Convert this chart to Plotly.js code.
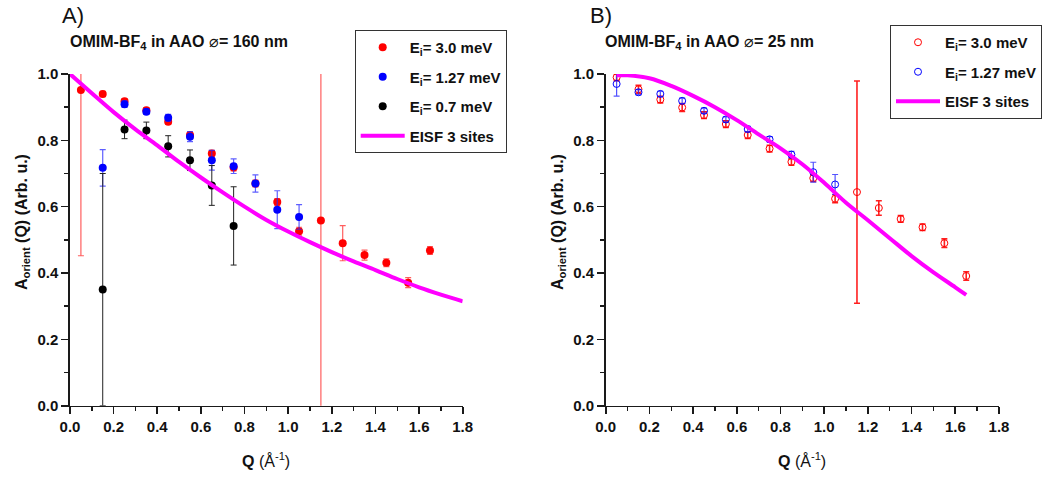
<!DOCTYPE html>
<html>
<head>
<meta charset="utf-8">
<script src="https://cdn.plot.ly/plotly-3.0.1.min.js"></script>
<style>html,body{margin:0;padding:0;background:#fff;}#chart{width:1051px;height:479px;}</style>
</head>
<body>
<div id="chart"></div>
<script>
// ---- Panel A: OMIM-BF4 in AAO, 160 nm ----
const qA_red   = [0.05,0.15,0.25,0.35,0.45,0.55,0.65,0.75,0.85,0.95,1.05,1.15,1.25,1.35,1.45,1.55,1.65];
const aA_red   = [0.952,0.940,0.918,0.891,0.856,0.816,0.760,0.718,0.670,0.614,0.526,0.558,0.490,0.454,0.431,0.371,0.468];
const eA_red   = [0.50,0.008,0.008,0.008,0.008,0.008,0.010,0.010,0.010,0.010,0.012,0.60,0.053,0.015,0.012,0.015,0.012];
const qA_blue  = [0.15,0.25,0.35,0.45,0.55,0.65,0.75,0.85,0.95,1.05];
const aA_blue  = [0.717,0.909,0.886,0.868,0.811,0.740,0.722,0.670,0.591,0.569];
const eA_blue  = [0.055,0.010,0.008,0.010,0.015,0.030,0.022,0.026,0.057,0.037];
const qA_black = [0.15,0.25,0.35,0.45,0.55,0.65,0.75];
const aA_black = [0.350,0.833,0.830,0.782,0.740,0.664,0.542];
const eA_black = [0.35,0.028,0.025,0.032,0.031,0.060,0.118];
const qA_fit   = [0.0,0.1,0.2,0.3,0.4,0.5,0.6,0.7,0.8,0.9,1.0,1.1,1.2,1.3,1.4,1.5,1.6,1.7,1.8];
const aA_fit   = [1.0,0.942,0.885,0.833,0.785,0.735,0.688,0.643,0.600,0.560,0.525,0.493,0.463,0.435,0.409,0.382,0.357,0.335,0.315];

// ---- Panel B: OMIM-BF4 in AAO, 25 nm ----
const qB_red   = [0.05,0.15,0.25,0.35,0.45,0.55,0.65,0.75,0.85,0.95,1.05,1.15,1.25,1.35,1.45,1.55,1.65];
const aB_red   = [0.990,0.954,0.923,0.899,0.876,0.849,0.816,0.775,0.735,0.686,0.624,0.644,0.596,0.563,0.538,0.490,0.391];
const eB_red   = [0.010,0.012,0.010,0.012,0.010,0.010,0.010,0.010,0.010,0.010,0.012,0.335,0.022,0.010,0.010,0.013,0.013];
const qB_blue  = [0.05,0.15,0.25,0.35,0.45,0.55,0.65,0.75,0.85,0.95,1.05];
const aB_blue  = [0.970,0.945,0.940,0.919,0.889,0.863,0.834,0.803,0.757,0.704,0.667];
const eB_blue  = [0.037,0.008,0.008,0.008,0.008,0.008,0.008,0.008,0.010,0.030,0.030];
const qB_fit   = [0.05,0.1,0.2,0.3,0.4,0.5,0.6,0.7,0.8,0.9,1.0,1.1,1.2,1.3,1.4,1.5,1.6,1.65];
const aB_fit   = [0.996,0.996,0.987,0.964,0.934,0.900,0.861,0.818,0.776,0.728,0.672,0.612,0.559,0.505,0.451,0.402,0.357,0.334];

const xTicks = [0,0.2,0.4,0.6,0.8,1.0,1.2,1.4,1.6,1.8];
const yTicks = [0,0.2,0.4,0.6,0.8,1.0];

const legRed  = 'E<sub>i</sub>= 3.0 meV';
const legBlue = 'E<sub>i</sub>= 1.27 meV';
const legBlack= 'E<sub>i</sub>= 0.7 meV';
const legFit  = 'EISF 3 sites';

const FONT = '"Liberation Sans", Arial, sans-serif';

function eb(arr, color, th){ return {type:'data', array:arr, visible:true, color:color, thickness:th, width:3}; }

const traces = [
  {x:qA_red, y:aA_red, type:'scatter', mode:'markers', name:legRed, xaxis:'x', yaxis:'y', legend:'legend', legendgroup:'a1',
   marker:{color:'#ff0000', size:8}, error_y:eb(eA_red,'rgba(255,40,40,0.75)',1.2)},
  {x:qA_blue, y:aA_blue, type:'scatter', mode:'markers', name:legBlue, xaxis:'x', yaxis:'y', legend:'legend', legendgroup:'a2',
   marker:{color:'#0000ff', size:8}, error_y:eb(eA_blue,'rgba(40,40,255,0.75)',1.2)},
  {x:qA_black, y:aA_black, type:'scatter', mode:'markers', name:legBlack, xaxis:'x', yaxis:'y', legend:'legend', legendgroup:'a3',
   marker:{color:'#000000', size:8}, error_y:eb(eA_black,'#222222',1.0)},
  {x:qA_fit, y:aA_fit, type:'scatter', mode:'lines', name:legFit, xaxis:'x', yaxis:'y', legend:'legend', legendgroup:'a4',
   line:{color:'#ff00ff', width:4, shape:'spline'}},

  {x:qB_red, y:aB_red, type:'scatter', mode:'markers', name:legRed, xaxis:'x2', yaxis:'y2', legend:'legend2', legendgroup:'b1',
   marker:{color:'#ff0000', size:7, symbol:'circle-open', line:{width:1}}, error_y:eb(eB_red,'#ff2020',1.6)},
  {x:qB_blue, y:aB_blue, type:'scatter', mode:'markers', name:legBlue, xaxis:'x2', yaxis:'y2', legend:'legend2', legendgroup:'b2',
   marker:{color:'#0000ff', size:7, symbol:'circle-open', line:{width:1}}, error_y:eb(eB_blue,'rgba(40,40,255,0.8)',1.2)},
  {x:qB_fit, y:aB_fit, type:'scatter', mode:'lines', name:legFit, xaxis:'x2', yaxis:'y2', legend:'legend2', legendgroup:'b3',
   line:{color:'#ff00ff', width:4, shape:'spline'}}
];

function xax(domain, anchor){
  return {domain:domain, anchor:anchor, range:[0,1.8], tickvals:xTicks, ticktext:xTicks.map(v=>v.toFixed(1)),
    showline:true, linecolor:'#1a1a1a', linewidth:1.6, ticks:'outside', ticklen:7, tickwidth:1.6, tickcolor:'#1a1a1a',
    minor:{dtick:0.1, tick0:0, ticks:'outside', ticklen:4, tickwidth:1.4, tickcolor:'#1a1a1a', showgrid:false},
    showgrid:false, zeroline:false, tickfont:{family:FONT, size:15, color:'#111', weight:'bold'}};
}
function yax(domain, anchor){
  return {domain:domain, anchor:anchor, range:[0,1.0], tickvals:yTicks, ticktext:yTicks.map(v=>v.toFixed(1)),
    showline:true, linecolor:'#1a1a1a', linewidth:1.6, ticks:'outside', ticklen:7, tickwidth:1.6, tickcolor:'#1a1a1a',
    minor:{dtick:0.1, tick0:0, ticks:'outside', ticklen:4, tickwidth:1.4, tickcolor:'#1a1a1a', showgrid:false},
    showgrid:false, zeroline:false, tickfont:{family:FONT, size:15, color:'#111', weight:'bold'}};
}

const W = 1051, H = 479;
const yDom = [1-405.7/H, 1-74/H];
const legFont = {family:FONT, size:15, color:'#111', weight:'bold'};

const layout = {
  width:W, height:H, margin:{l:0,r:0,t:0,b:0}, paper_bgcolor:'#fff', plot_bgcolor:'#fff',
  font:{family:FONT},
  xaxis: xax([70/W, 462.7/W], 'y'),
  yaxis: yax(yDom, 'x'),
  xaxis2: xax([605.7/W, 999/W], 'y2'),
  yaxis2: yax(yDom, 'x2'),
  showlegend:true,
  legend:{x:354.7/W, y:1-30/H, xanchor:'left', yanchor:'top', bordercolor:'#333', borderwidth:1, bgcolor:'#fff',
    font:legFont, itemwidth:44, traceorder:'grouped', tracegroupgap:7},
  legend2:{x:890/W, y:1-25/H, xanchor:'left', yanchor:'top', bordercolor:'#333', borderwidth:1, bgcolor:'#fff',
    font:legFont, itemwidth:44, traceorder:'grouped', tracegroupgap:7},
  annotations:[
    {text:'A)', xref:'paper', yref:'paper', x:60/W, y:1-1/H, xanchor:'left', yanchor:'top', showarrow:false,
     font:{family:FONT, size:22, color:'#111'}},
    {text:'B)', xref:'paper', yref:'paper', x:588/W, y:1-1/H, xanchor:'left', yanchor:'top', showarrow:false,
     font:{family:FONT, size:22, color:'#111'}},
    {text:'OMIM-BF<sub>4</sub> in AAO <span style="font-weight:normal">⌀</span>= 160 nm', xref:'paper', yref:'paper',
     x:68/W, y:1-43/H, xanchor:'left', yanchor:'middle', showarrow:false, font:{family:FONT, size:16, color:'#111', weight:'bold'}},
    {text:'OMIM-BF<sub>4</sub> in AAO <span style="font-weight:normal">⌀</span>= 25 nm', xref:'paper', yref:'paper',
     x:603/W, y:1-43/H, xanchor:'left', yanchor:'middle', showarrow:false, font:{family:FONT, size:16, color:'#111', weight:'bold'}},
    {text:'A<sub>orient</sub> (Q) (Arb. u.)', xref:'paper', yref:'paper', x:22/W, y:1-222/H, textangle:-90,
     xanchor:'center', yanchor:'middle', showarrow:false, font:{family:FONT, size:16, color:'#111', weight:'bold'}},
    {text:'A<sub>orient</sub> (Q) (Arb. u.)', xref:'paper', yref:'paper', x:558/W, y:1-222/H, textangle:-90,
     xanchor:'center', yanchor:'middle', showarrow:false, font:{family:FONT, size:16, color:'#111', weight:'bold'}},
    {text:'<b>Q</b> (Å<sup>-1</sup>)', xref:'paper', yref:'paper', x:266/W, y:1-460/H,
     xanchor:'center', yanchor:'middle', showarrow:false, font:{family:FONT, size:16, color:'#111'}},
    {text:'<b>Q</b> (Å<sup>-1</sup>)', xref:'paper', yref:'paper', x:802/W, y:1-460/H,
     xanchor:'center', yanchor:'middle', showarrow:false, font:{family:FONT, size:16, color:'#111'}}
  ]
};

Plotly.newPlot('chart', traces, layout, {staticPlot:true, displayModeBar:false});
</script>
</body>
</html>
